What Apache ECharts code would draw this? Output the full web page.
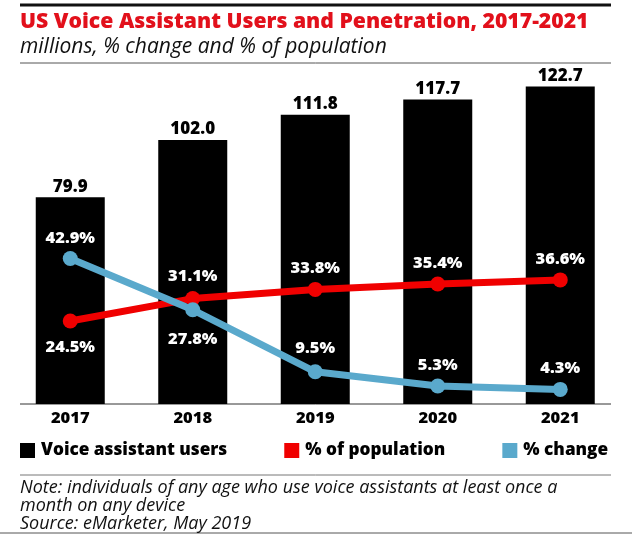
<!DOCTYPE html>
<html>
<head>
<meta charset="utf-8">
<style>html,body{margin:0;padding:0;background:#fff}#chart{width:632px;height:534px}</style>
<script src="https://cdn.jsdelivr.net/npm/echarts@6/dist/echarts.min.js"></script>
</head>
<body>
<div id="chart"></div>
<script>
var years = ['2017', '2018', '2019', '2020', '2021'];
var users = [79.9, 102.0, 111.8, 117.7, 122.7];
var population = [24.5, 31.1, 33.8, 35.4, 36.6];
var change = [42.9, 27.8, 9.5, 5.3, 4.3];
var populationLabelPos = ['bottom', 'top', 'top', 'top', 'top'];
var changeLabelPos = ['top', 'bottom', 'top', 'top', 'top'];
var populationLabelGap = [10, 6, 5, 5, 5];
var changeLabelGap = [4, 14, 7, 5, 5];

var font = '"Open Sans"';
var chart = echarts.init(document.getElementById('chart'));

function rule(x1, x2, y, width, color) {
  return {
    type: 'line',
    shape: { x1: x1, y1: y, x2: x2, y2: y },
    style: { stroke: color, lineWidth: width }
  };
}

function note(y, text) {
  return {
    type: 'text',
    x: 20,
    y: y,
    style: { text: text, font: 'italic 18px ' + font, fill: '#111' }
  };
}

function lineData(values, positions, gaps) {
  return values.map(function (v, i) {
    return { value: v, label: { position: positions[i], distance: gaps[i] } };
  });
}

var lineLabel = {
  show: true,
  color: '#fff',
  fontFamily: font,
  fontWeight: 800,
  fontSize: 16.5,
  formatter: function (p) { return p.value.toFixed(1) + '%'; }
};

var option = {
  animation: false,
  backgroundColor: '#fff',
  title: {
    text: 'US Voice Assistant Users and Penetration, 2017-2021',
    subtext: 'millions, % change and % of population',
    left: 20,
    top: 11,
    padding: 0,
    itemGap: 5,
    textStyle: { color: '#e2101b', fontFamily: font, fontWeight: 800, fontSize: 21.2 },
    subtextStyle: { color: '#111', fontFamily: font, fontStyle: 'italic', fontSize: 21 }
  },
  legend: {
    left: 20,
    top: 442,
    padding: 0,
    itemWidth: 15,
    itemHeight: 15,
    itemGap: 57,
    textStyle: { color: '#000', fontFamily: font, fontWeight: 800, fontSize: 17.2, padding: [0, 0, 0, 1] },
    data: [
      { name: 'Voice assistant users', icon: 'rect' },
      { name: '% of population', icon: 'rect' },
      { name: '% change', icon: 'rect' }
    ]
  },
  grid: { left: 9, top: 65, width: 612.5, height: 339 },
  xAxis: {
    type: 'category',
    data: years,
    axisLine: { show: false },
    axisTick: { show: false },
    axisLabel: { color: '#000', fontFamily: font, fontWeight: 800, fontSize: 16.5, margin: 6 }
  },
  yAxis: [
    { type: 'value', min: 0, max: 131, show: false },
    { type: 'value', min: 0, max: 100, show: false }
  ],
  series: [
    {
      name: 'Voice assistant users',
      type: 'bar',
      data: users,
      barWidth: 69,
      itemStyle: { color: '#000' },
      label: {
        show: true,
        position: 'top',
        distance: 2,
        color: '#000',
        fontFamily: font,
        fontWeight: 800,
        fontSize: 17,
        formatter: function (p) { return p.value.toFixed(1); }
      }
    },
    {
      name: '% of population',
      type: 'line',
      yAxisIndex: 1,
      data: lineData(population, populationLabelPos, populationLabelGap),
      symbol: 'circle',
      symbolSize: 15,
      lineStyle: { color: '#f00000', width: 7 },
      itemStyle: { color: '#f00000' },
      label: lineLabel
    },
    {
      name: '% change',
      type: 'line',
      yAxisIndex: 1,
      data: lineData(change, changeLabelPos, changeLabelGap),
      symbol: 'circle',
      symbolSize: 15,
      lineStyle: { color: '#5aa9cc', width: 7 },
      itemStyle: { color: '#5aa9cc' },
      label: lineLabel
    }
  ],
  graphic: [
    rule(20, 611, 5, 3, '#111'),
    rule(20, 611, 63, 1, '#555'),
    rule(20, 611, 404, 1, '#333'),
    rule(20, 611, 475, 1, '#777'),
    rule(0, 632, 533, 1, '#555'),
    note(479, 'Note: individuals of any age who use voice assistants at least once a'),
    note(497, 'month on any device'),
    note(515, 'Source: eMarketer, May 2019')
  ]
};

chart.setOption(option);
</script>
</body>
</html>
